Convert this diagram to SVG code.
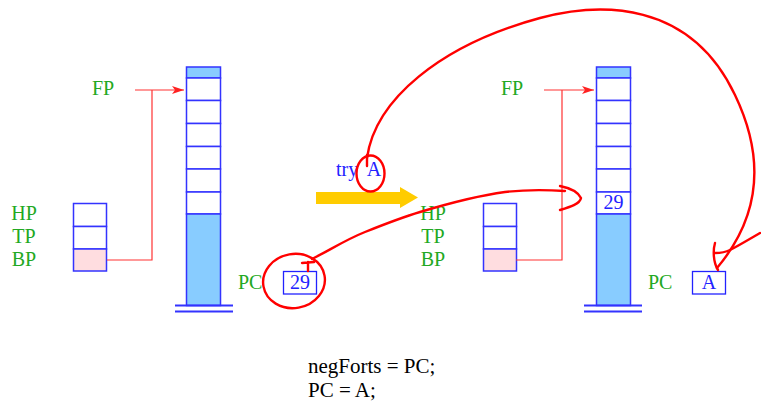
<svg xmlns="http://www.w3.org/2000/svg" width="761" height="405" viewBox="0 0 761 405">
  <defs>
    <style>
      .lbl { font-family: "Liberation Serif", "Times New Roman", serif; font-size: 20px; fill: #22a822; }
      .val { font-family: "Liberation Serif", "Times New Roman", serif; font-size: 20px; fill: #2222ff; }
      .code { font-family: "Liberation Serif", "Times New Roman", serif; font-size: 21px; fill: #000; }
      .cell { fill: #fff; stroke: #3333ff; stroke-width: 1.5; }
      .full { fill: #88ccff; stroke: #3333ff; stroke-width: 1.5; }
      .bp { fill: #ffdde0; stroke: #3333ff; stroke-width: 1.5; }
      .base { stroke: #3333ff; stroke-width: 2; }
      .ptr { fill: none; stroke: #ff3333; stroke-width: 1.2; }
      .ink { fill: none; stroke: #ff0000; stroke-width: 2.4; stroke-linecap: round; stroke-linejoin: round; }
    </style>
    <marker id="head" viewBox="0 0 12 8" refX="12" refY="4" markerWidth="12" markerHeight="8" markerUnits="userSpaceOnUse" orient="auto">
      <path d="M0,0 L12,4 L0,8 L3,4 Z" fill="#ff2222"/>
    </marker>
  </defs>

  <!-- left state: stack -->
  <g id="stack-left">
    <rect class="full" x="186.5" y="67" width="34" height="11"/>
    <rect class="cell" x="186.5" y="78" width="34" height="22.5"/>
    <rect class="cell" x="186.5" y="100.5" width="34" height="23"/>
    <rect class="cell" x="186.5" y="123.5" width="34" height="23"/>
    <rect class="cell" x="186.5" y="146.5" width="34" height="22.5"/>
    <rect class="cell" x="186.5" y="169" width="34" height="23"/>
    <rect class="cell" x="186.5" y="192" width="34" height="22"/>
    <rect class="full" x="186.5" y="214" width="34" height="91.5"/>
    <line class="base" x1="175" y1="305.5" x2="233" y2="305.5"/>
    <line class="base" x1="175" y1="311.5" x2="233" y2="311.5"/>
  </g>

  <!-- left state: registers -->
  <g id="regs-left">
    <rect class="cell" x="73.5" y="203.5" width="33" height="23"/>
    <rect class="cell" x="73.5" y="226.5" width="33" height="22.5"/>
    <rect class="bp" x="73.5" y="249" width="33" height="22"/>
    <text class="lbl" x="24" y="220" text-anchor="middle">HP</text>
    <text class="lbl" x="24" y="243" text-anchor="middle">TP</text>
    <text class="lbl" x="24" y="266" text-anchor="middle">BP</text>
  </g>

  <g id="fp-left">
    <text class="lbl" x="92" y="95">FP</text>
  </g>

  <g id="pc-left">
    <text class="lbl" x="238" y="289">PC</text>
    <rect x="283.5" y="271.5" width="33" height="22.5" fill="#fff" stroke="#2222ff" stroke-width="1.3"/>
    <text class="val" x="300" y="289" text-anchor="middle">29</text>
  </g>

  <!-- instruction and transition arrow -->
  <g id="instr">
    <text class="val" x="336" y="176">try</text>
    <text class="val" x="374" y="176" text-anchor="middle">A</text>
  </g>
  <g id="step-arrow">
    <path d="M316,192 L400,192 L400,187 L418,197.5 L400,208 L400,204 L316,204 Z" fill="#ffcc00"/>
  </g>

  <!-- right state: stack -->
  <g id="stack-right">
    <rect class="full" x="596.5" y="67" width="34" height="11"/>
    <rect class="cell" x="596.5" y="78" width="34" height="22.5"/>
    <rect class="cell" x="596.5" y="100.5" width="34" height="23"/>
    <rect class="cell" x="596.5" y="123.5" width="34" height="23"/>
    <rect class="cell" x="596.5" y="146.5" width="34" height="22.5"/>
    <rect class="cell" x="596.5" y="169" width="34" height="23"/>
    <rect class="cell" x="596.5" y="192" width="34" height="22"/>
    <text class="val" x="613.5" y="209" text-anchor="middle">29</text>
    <rect class="full" x="596.5" y="214" width="34" height="91.5"/>
    <line class="base" x1="584" y1="305.5" x2="642" y2="305.5"/>
    <line class="base" x1="584" y1="311.5" x2="642" y2="311.5"/>
  </g>

  <!-- right state: registers -->
  <g id="regs-right">
    <rect class="cell" x="483.5" y="203.5" width="33" height="23"/>
    <rect class="cell" x="483.5" y="226.5" width="33" height="22.5"/>
    <rect class="bp" x="483.5" y="249" width="33" height="22"/>
    <text class="lbl" x="433" y="220" text-anchor="middle">HP</text>
    <text class="lbl" x="433" y="243" text-anchor="middle">TP</text>
    <text class="lbl" x="433" y="266" text-anchor="middle">BP</text>
  </g>

  <g id="fp-right">
    <text class="lbl" x="501" y="95">FP</text>
  </g>

  <g id="pc-right">
    <text class="lbl" x="648" y="289">PC</text>
    <rect x="692.5" y="271.5" width="33" height="22.5" fill="#fff" stroke="#2222ff" stroke-width="1.3"/>
    <text class="val" x="709" y="289" text-anchor="middle">A</text>
  </g>

  <!-- code -->
  <g id="code">
    <text class="code" x="308" y="373">negForts = PC;</text>
    <text class="code" x="308" y="397">PC = A;</text>
  </g>

  <g id="connectors">
    <!-- frame pointers -->
    <path class="ptr" d="M135,90 L184,90" marker-end="url(#head)"/>
    <path class="ptr" d="M107,260 L152,260 L152,90"/>
    <path class="ptr" d="M544,90 L594,90" marker-end="url(#head)"/>
    <path class="ptr" d="M516,260 L562,260 L562,90"/>

    <!-- hand-drawn: old PC saved into the stack -->
    <ellipse class="ink" cx="294" cy="281" rx="31" ry="27" transform="rotate(-10 294 281)"/>
    <path class="ink" d="M308,271 L308,262 M302,263 L314,262"/>
    <path class="ink" d="M312,259 C330,250 345,240 365,232 C385,224 400,218 420,212 C450,203 475,196 505,192 C530,189 550,190 565,191"/>
    <path class="ink" d="M560,186 C570,188 578,192 581,198 C580,204 570,207 560,210"/>

    <!-- hand-drawn: jump target A loaded into PC -->
    <ellipse class="ink" cx="370.5" cy="173.5" rx="14" ry="18"/>
    <path class="ink" d="M367,166 L367,155"/>
    <path class="ink" d="M367,158 C375,100 440,45 540,18 C600,2 690,0 735,95 C758,143 770,205 717,268"/>
    <path class="ink" d="M715,243 C713,250 713,262 718,270"/>
    <path class="ink" d="M760,233 C748,240 738,246 730,250 C724,253 718,253 715,253"/>
  </g>
</svg>
